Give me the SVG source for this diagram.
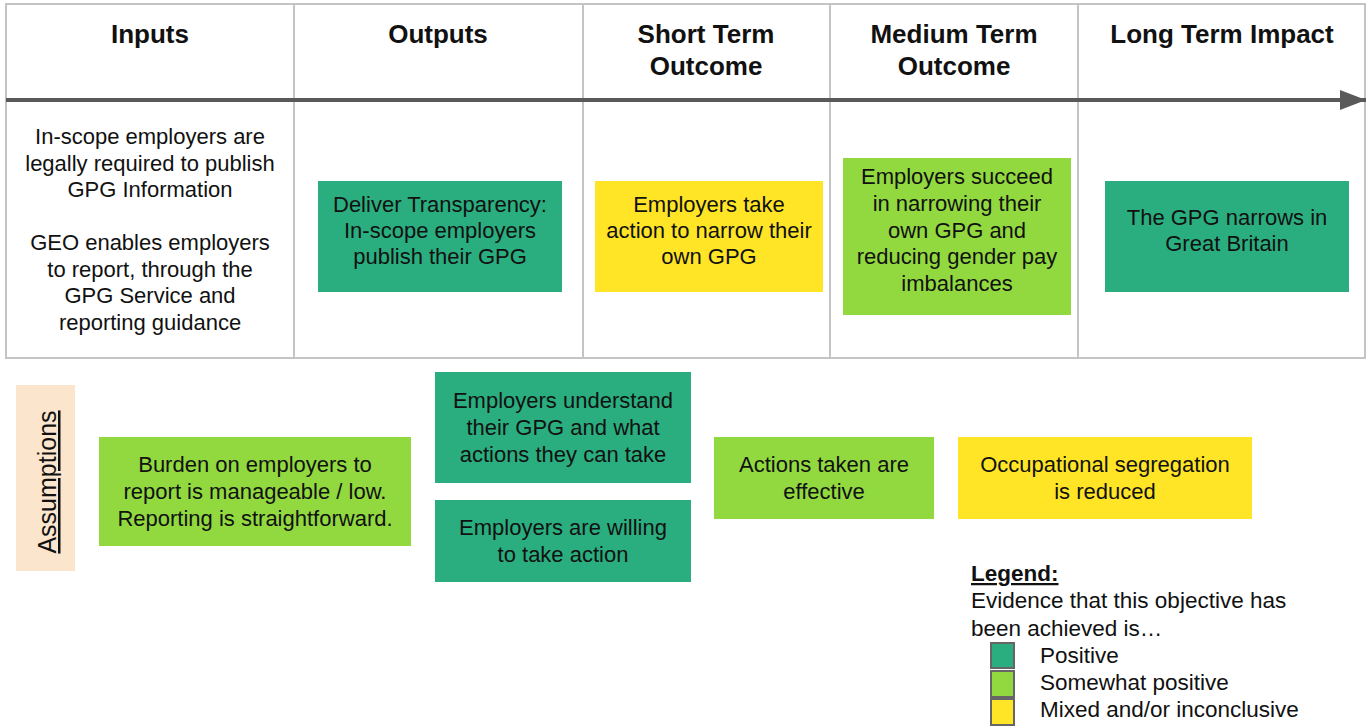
<svg xmlns="http://www.w3.org/2000/svg" width="1369" height="727" viewBox="0 0 1369 727">
  <defs>
    <style>
      text { font-family: "Liberation Sans", Arial, sans-serif; fill: #111; }
      .hdr { font-size: 26px; font-weight: bold; text-anchor: middle; }
      .body { font-size: 22px; text-anchor: middle; }
      .leg { font-size: 22.5px; }
      .grid { stroke: #c4c4c4; stroke-width: 2; fill: none; }
      .pos { fill: #2aae7f; }
      .some { fill: #92d940; }
      .mixed { fill: #ffe526; }
      .swatch { stroke: #666; stroke-width: 2; }
    </style>
    <marker id="arrowHead" markerWidth="7" markerHeight="6" refX="6.5" refY="2.5" orient="auto" markerUnits="strokeWidth">
      <path d="M0,0 L6.5,2.5 L0,5 Z" fill="#595959"/>
    </marker>
  </defs>

  <rect width="1369" height="727" fill="#ffffff"/>

  <!-- Timeline table -->
  <g id="table">
    <rect class="grid" x="6" y="4" width="1359" height="354"/>
    <line class="grid" x1="294" y1="4" x2="294" y2="358"/>
    <line class="grid" x1="583" y1="4" x2="583" y2="358"/>
    <line class="grid" x1="830" y1="4" x2="830" y2="358"/>
    <line class="grid" x1="1078" y1="4" x2="1078" y2="358"/>
    <text class="hdr" x="150" y="43">Inputs</text>
    <text class="hdr" x="438" y="43">Outputs</text>
    <text class="hdr" x="706" y="43">Short Term</text>
    <text class="hdr" x="706" y="75">Outcome</text>
    <text class="hdr" x="954" y="43">Medium Term</text>
    <text class="hdr" x="954" y="75">Outcome</text>
    <text class="hdr" x="1222" y="43">Long Term Impact</text>
  </g>

  <!-- Connectors -->
  <g id="connectors">
    <line x1="6" y1="100" x2="1366" y2="100" stroke="#595959" stroke-width="4" marker-end="url(#arrowHead)"/>
  </g>

  <g id="inputs">
    <text class="body" x="150" y="144">In-scope employers are</text>
    <text class="body" x="150" y="171">legally required to publish</text>
    <text class="body" x="150" y="197">GPG Information</text>
    <text class="body" x="150" y="250">GEO enables employers</text>
    <text class="body" x="150" y="277">to report, through the</text>
    <text class="body" x="150" y="303">GPG Service and</text>
    <text class="body" x="150" y="330">reporting guidance</text>
  </g>

  <g id="output-transparency">
    <rect class="pos" x="318" y="181" width="244" height="111"/>
    <text class="body" x="440" y="212">Deliver Transparency:</text>
    <text class="body" x="440" y="238">In-scope employers</text>
    <text class="body" x="440" y="264">publish their GPG</text>
  </g>

  <g id="short-term">
    <rect class="mixed" x="595" y="181" width="228" height="111"/>
    <text class="body" x="709" y="212">Employers take</text>
    <text class="body" x="709" y="238">action to narrow their</text>
    <text class="body" x="709" y="264">own GPG</text>
  </g>

  <g id="medium-term">
    <rect class="some" x="843" y="158" width="228" height="157"/>
    <text class="body" x="957" y="184">Employers succeed</text>
    <text class="body" x="957" y="211">in narrowing their</text>
    <text class="body" x="957" y="238">own GPG and</text>
    <text class="body" x="957" y="264">reducing gender pay</text>
    <text class="body" x="957" y="291">imbalances</text>
  </g>

  <g id="long-term">
    <rect class="pos" x="1105" y="181" width="244" height="111"/>
    <text class="body" x="1227" y="225">The GPG narrows in</text>
    <text class="body" x="1227" y="251">Great Britain</text>
  </g>

  <!-- Assumptions row -->
  <g id="assumptions-label">
    <rect x="16" y="385" width="59" height="186" fill="#fce5cd"/>
    <text transform="translate(56,482) rotate(-90)" font-size="25" text-anchor="middle" text-decoration="underline">Assumptions</text>
  </g>

  <g id="assume-burden">
    <rect class="some" x="99" y="437" width="312" height="109"/>
    <text class="body" x="255" y="472">Burden on employers to</text>
    <text class="body" x="255" y="499">report is manageable / low.</text>
    <text class="body" x="255" y="526">Reporting is straightforward.</text>
  </g>

  <g id="assume-understand">
    <rect class="pos" x="435" y="372" width="256" height="111"/>
    <text class="body" x="563" y="408">Employers understand</text>
    <text class="body" x="563" y="435">their GPG and what</text>
    <text class="body" x="563" y="462">actions they can take</text>
  </g>

  <g id="assume-willing">
    <rect class="pos" x="435" y="500" width="256" height="82"/>
    <text class="body" x="563" y="535">Employers are willing</text>
    <text class="body" x="563" y="562">to take action</text>
  </g>

  <g id="assume-effective">
    <rect class="some" x="714" y="437" width="220" height="82"/>
    <text class="body" x="824" y="472">Actions taken are</text>
    <text class="body" x="824" y="499">effective</text>
  </g>

  <g id="assume-segregation">
    <rect class="mixed" x="958" y="437" width="294" height="82"/>
    <text class="body" x="1105" y="472">Occupational segregation</text>
    <text class="body" x="1105" y="499">is reduced</text>
  </g>

  <!-- Legend -->
  <g id="legend">
    <text class="leg" x="971" y="581" font-weight="bold" text-decoration="underline">Legend:</text>
    <text class="leg" x="971" y="608">Evidence that this objective has</text>
    <text class="leg" x="971" y="636">been achieved is…</text>
    <rect class="pos swatch" x="991" y="643" width="23" height="25"/>
    <rect class="some swatch" x="991" y="671" width="23" height="26"/>
    <rect class="mixed swatch" x="991" y="699" width="23" height="26"/>
    <text class="leg" x="1040" y="663">Positive</text>
    <text class="leg" x="1040" y="690">Somewhat positive</text>
    <text class="leg" x="1040" y="717">Mixed and/or inconclusive</text>
  </g>
</svg>
